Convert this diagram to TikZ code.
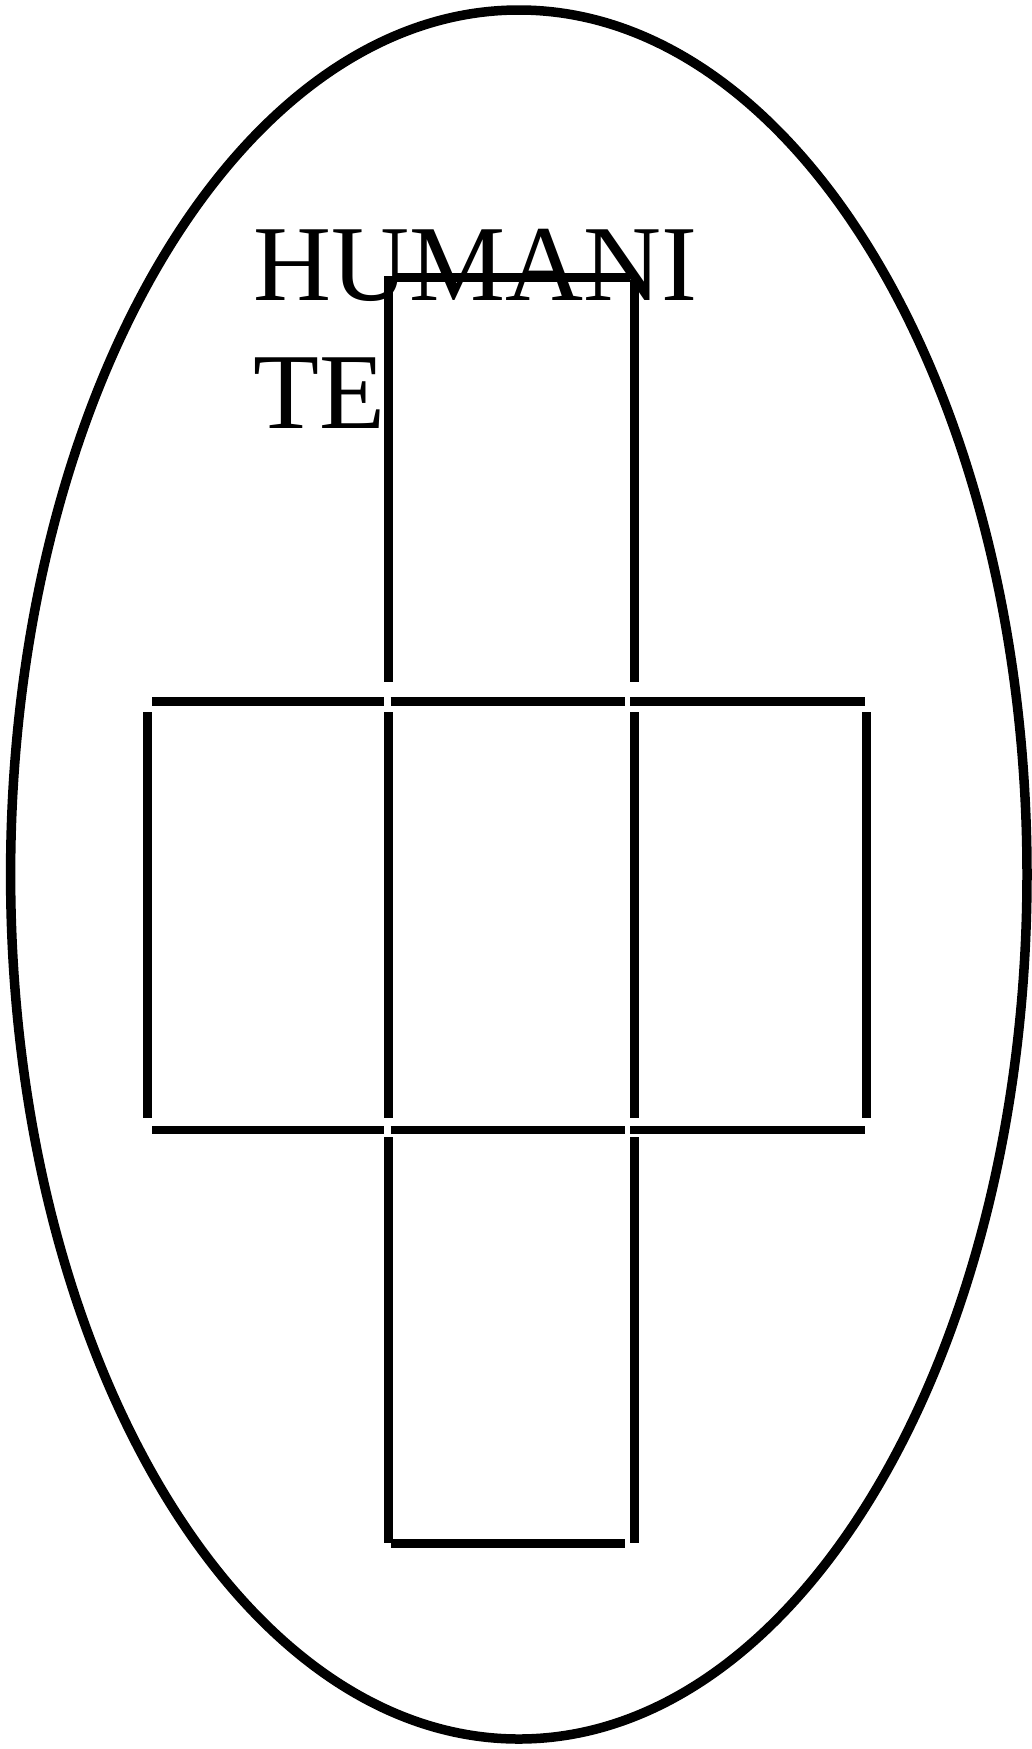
\documentclass[tikz,border=0pt]{standalone}
\usepackage{fontspec}
\setmainfont{Liberation Serif}

\begin{document}
\begin{tikzpicture}[x=1pt,y=-1pt]
   \tikzstyle{seg}=[line width=8.7pt]
   \tikzstyle{rim}=[line width=9.5pt]
   \tikzstyle{word}=[inner sep=0pt,align=left,font=\fontsize{108}{128}\selectfont]

   \useasboundingbox (0,0) rectangle (1032,1749);
   \draw [rim] (518.8,874.5) ellipse [x radius=508.2, y radius=864.5];

   \node (word) [word,anchor=base west] at (253,428) {HUMANI\\TE};

   % upper cell
   \draw [seg] (393,277.5) -- (630,277.5);
   \draw [seg] (388.5,276) -- (388.5,682.3);
   \draw [seg] (634.5,280) -- (634.5,682.3);

   % middle row
   \draw [seg] (152,701.5) -- (384.3,701.5);
   \draw [seg] (390.6,701.5) -- (625.3,701.5);
   \draw [seg] (630,701.5) -- (865,701.5);
   \foreach \x in {147.7,388.5,634.5,866.7}
      \draw [seg] (\x,712.3) -- (\x,1118.3);
   \draw [seg] (152,1130) -- (384.3,1130);
   \draw [seg] (390.6,1130) -- (625.3,1130);
   \draw [seg] (630,1130) -- (865,1130);

   % lower cell
   \draw [seg] (388.5,1137.3) -- (388.5,1542.7);
   \draw [seg] (634.5,1137.3) -- (634.5,1542.7);
   \draw [seg] (390.6,1543.8) -- (625.3,1543.8);
\end{tikzpicture}
\end{document}
